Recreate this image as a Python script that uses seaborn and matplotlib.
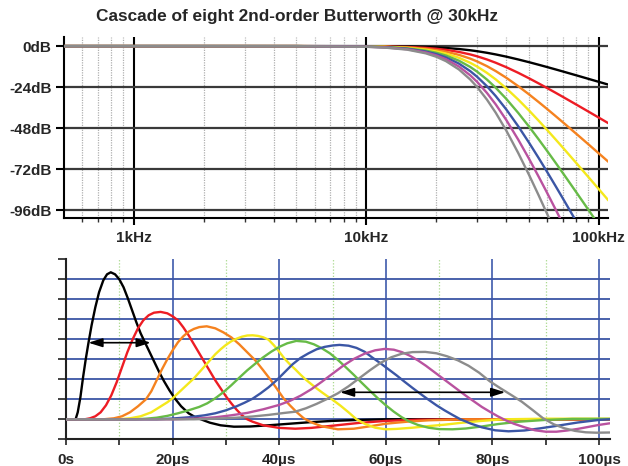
import matplotlib
matplotlib.use("Agg")
import matplotlib.pyplot as plt
import seaborn as sns
import pandas as pd

sns.set_theme(style="white")
plt.rcParams['font.family'] = ['Liberation Sans', 'DejaVu Sans']
plt.rcParams['font.weight'] = 'bold'

# ---------------- data: magnitude response (dB) ----------------
freq_hz = [500, 1000, 2000, 5000, 10000, 12000, 15000, 18000, 20000, 22000, 25000,
           28000, 30000, 33000, 36000, 40000, 45000, 50000, 55000, 60000, 65000,
           70000, 80000, 90000, 100000, 110000]
db_n1 = [0, 0, 0, -0.003, -0.05, -0.11, -0.26, -0.53, -0.78, -1.10, -1.71, -2.45, -3.01,
         -3.92, -4.88, -6.19, -7.83, -9.40, -10.90, -12.30, -13.62, -14.86, -17.12,
         -19.14, -20.95, -22.59]
db_n2 = [0, 0, 0, -0.01, -0.11, -0.22, -0.53, -1.06, -1.57, -2.21, -3.42, -4.90, -6.02,
         -7.83, -9.75, -12.38, -15.65, -18.81, -21.80, -24.61, -27.25, -29.73, -34.25,
         -38.28, -41.90, -45.19]
db_n3 = [0, 0, 0, -0.01, -0.16, -0.33, -0.79, -1.59, -2.35, -3.31, -5.13, -7.36, -9.03,
         -11.75, -14.63, -18.57, -23.48, -28.21, -32.70, -36.91, -40.88, -44.59, -51.37,
         -57.41, -62.85, -67.79]
db_n4 = [0, 0, 0, -0.01, -0.21, -0.44, -1.05, -2.12, -3.13, -4.41, -6.84, -9.81, -12.04,
         -15.67, -19.50, -24.76, -31.31, -37.61, -43.60, -49.22, -54.50, -59.45, -68.50,
         -76.55, -83.80, -90.38]
db_n5 = [0, 0, 0, -0.02, -0.27, -0.55, -1.32, -2.65, -3.92, -5.52, -8.55, -12.26, -15.05,
         -19.59, -24.38, -30.96, -39.14, -47.02, -54.50, -61.52, -68.13, -74.32, -85.62,
         -95.69, -104.75]
db_n6 = [0, 0, 0, -0.02, -0.32, -0.66, -1.58, -3.18, -4.70, -6.62, -10.25, -14.71, -18.06,
         -23.50, -29.26, -37.15, -46.96, -56.42, -65.39, -73.82, -81.75, -89.18, -102.74]
db_n7 = [0, 0, 0, -0.02, -0.37, -0.77, -1.84, -3.71, -5.48, -7.72, -11.96, -17.16, -21.07,
         -27.42, -34.13, -43.34, -54.79, -65.82, -76.29, -86.13, -95.38, -104.04]
db_n8 = [0, 0, 0, -0.02, -0.43, -0.88, -2.10, -4.24, -6.26, -8.82, -13.67, -19.62, -24.08,
         -31.34, -39.01, -49.53, -62.62, -75.22, -87.19, -98.43, -109.00]

db_ticks = [0, -24, -48, -72, -96]
db_labels = ["0dB", "-24dB", "-48dB", "-72dB", "-96dB"]
freq_ticks = [1000, 10000, 100000]
freq_labels = ["1kHz", "10kHz", "100kHz"]

# ---------------- data: impulse responses ----------------
t_n1 = [0, 1.8, 2.2, 2.7, 3.2, 3.7, 4.2, 4.8, 5.5, 6.2, 7.0, 7.7, 8.4, 9.2, 10.0, 10.8, 11.6,
        12.4, 13.2, 14.0, 14.8, 15.7, 16.6, 17.5, 18.4, 19.4, 20.4, 21.6, 23.0, 24.3, 25.3,
        27.0, 29.0, 31.5, 34.5, 38.0, 42.0, 46.0, 50.0, 55.0, 60.0, 102.0]
h_n1 = [0, 0, 0.35, 1.1, 2.1, 3.0, 3.8, 4.7, 5.6, 6.35, 6.95, 7.25, 7.35, 7.25, 7.0, 6.6, 6.05,
        5.45, 4.85, 4.3, 3.85, 3.35, 2.85, 2.35, 1.9, 1.45, 1.05, 0.65, 0.3, 0.1, 0.0,
        -0.17, -0.3, -0.37, -0.36, -0.3, -0.22, -0.14, -0.08, -0.03, 0.0, 0.0]
t_n2 = [0, 3.5, 4.5, 5.5, 6.5, 7.5, 8.5, 9.5, 10.5, 11.5, 12.5, 13.5, 14.5, 15.5, 16.5, 17.75,
        19.0, 20.0, 21.0, 22.0, 23.0, 24.0, 25.0, 26.0, 27.0, 28.0, 29.0, 30.0, 31.0, 32.0,
        33.0, 34.0, 35.0, 37.0, 40.0, 43.0, 46.0, 50.0, 55.0, 60.0, 66.0, 75.0, 102.0]
h_n2 = [0, 0, 0.05, 0.15, 0.35, 0.7, 1.2, 1.85, 2.6, 3.35, 4.0, 4.55, 4.95, 5.2, 5.33, 5.37,
        5.3, 5.15, 4.95, 4.6, 4.2, 3.75, 3.3, 2.85, 2.4, 1.95, 1.55, 1.15, 0.8, 0.48,
        0.2, 0.0, -0.12, -0.3, -0.43, -0.47, -0.43, -0.32, -0.18, -0.08, -0.02, 0.0, 0.0]
t_n3 = [0, 7, 9, 10.5, 12, 13.5, 15, 16, 17, 18, 19, 20, 21, 22, 23, 24, 25, 26.4, 28, 29.5,
        31, 32.5, 34, 35.5, 37, 38.3, 39.5, 40.8, 42, 43.3, 44.6, 46, 48, 51, 54, 57, 60,
        64, 68, 75, 102]
h_n3 = [0, 0, 0.05, 0.15, 0.35, 0.65, 1.0, 1.4, 1.95, 2.5, 3.0, 3.45, 3.85, 4.15, 4.38, 4.52,
        4.61, 4.65, 4.55, 4.35, 4.1, 3.75, 3.35, 2.95, 2.45, 2.0, 1.55, 1.05, 0.7, 0.35,
        0.05, -0.15, -0.35, -0.5, -0.47, -0.35, -0.22, -0.12, -0.05, 0, 0]
t_n4 = [0, 10, 12, 14, 16, 17.5, 19, 20, 21, 22, 23, 24, 25, 26, 27, 28, 29, 30, 31, 32, 33,
        34, 35, 36, 37, 38, 39, 40, 41, 42, 43, 44, 45, 46, 47, 48, 49, 50, 51.5, 53, 54.5,
        56, 58, 60, 62, 65, 68, 71, 74, 78, 82, 90, 102]
h_n4 = [0, 0, 0.05, 0.15, 0.35, 0.6, 0.85, 1.05, 1.3, 1.55, 1.8, 2.05, 2.35, 2.65, 2.95, 3.25,
        3.5, 3.72, 3.9, 4.03, 4.13, 4.19, 4.2, 4.17, 4.1, 3.98, 3.7, 3.38, 3.03, 2.75, 2.5,
        2.23, 1.98, 1.76, 1.55, 1.35, 1.16, 0.98, 0.68, 0.35, 0.0, -0.22, -0.42, -0.5,
        -0.48, -0.42, -0.34, -0.27, -0.18, -0.08, 0.0, 0.03, 0.03]
t_n5 = [0, 13, 15, 17, 19, 21, 23, 25, 26.5, 28, 29.5, 31, 32.5, 34, 35.5, 37, 38.5, 40, 41.5,
        43.2, 45, 46.5, 48, 49.5, 51, 52.5, 54, 55.5, 57, 58.5, 60, 61.5, 63, 64.5, 66, 68,
        70, 72.5, 75, 78, 81, 85, 90, 95, 102]
h_n5 = [0, 0, 0.03, 0.08, 0.17, 0.3, 0.45, 0.62, 0.8, 1.05, 1.35, 1.7, 2.08, 2.45, 2.78, 3.1,
        3.38, 3.62, 3.8, 3.92, 3.88, 3.75, 3.55, 3.3, 2.97, 2.6, 2.22, 1.82, 1.43, 1.05, 0.7,
        0.38, 0.1, -0.12, -0.28, -0.42, -0.49, -0.5, -0.46, -0.36, -0.24, -0.12, -0.03,
        0.02, 0.02]
t_n6 = [0, 17, 20, 23, 26, 28, 30, 32, 33.5, 35, 36.5, 38, 39.5, 41, 42.5, 44, 45.5, 47, 48.5,
        50, 51.3, 53, 54.5, 56, 57.5, 59, 60.5, 62, 63.5, 65, 66.5, 68, 69.5, 71, 72.5, 74,
        76, 78, 80.5, 83, 86, 89, 92, 96, 100, 102]
h_n6 = [0, 0, 0.04, 0.1, 0.2, 0.3, 0.45, 0.65, 0.83, 1.03, 1.3, 1.6, 1.95, 2.35, 2.75, 3.07,
        3.3, 3.5, 3.62, 3.69, 3.72, 3.68, 3.57, 3.38, 3.08, 2.8, 2.5, 2.2, 1.88, 1.57, 1.27,
        0.98, 0.7, 0.45, 0.22, 0.0, -0.22, -0.4, -0.55, -0.6, -0.56, -0.45, -0.33, -0.16,
        -0.03, 0.0]
t_n7 = [0, 20, 24, 28, 31, 34, 37, 40, 42, 44, 46, 48, 50, 52, 54, 56, 58, 59.8, 61.5, 63,
        64.5, 66, 67.5, 69, 70.5, 72, 73.5, 75, 76.5, 78, 79.5, 81, 82.5, 84, 86, 88, 90, 92,
        94, 96, 98, 100, 102]
h_n7 = [0, 0, 0.03, 0.1, 0.2, 0.32, 0.5, 0.72, 0.92, 1.18, 1.5, 1.88, 2.28, 2.68, 3.02, 3.28,
        3.45, 3.52, 3.48, 3.36, 3.18, 2.95, 2.68, 2.38, 2.08, 1.78, 1.48, 1.18, 0.9, 0.62,
        0.38, 0.15, -0.05, -0.22, -0.4, -0.55, -0.62, -0.62, -0.56, -0.48, -0.38, -0.28, -0.2]
t_n8 = [0, 24, 28, 32, 35, 38, 41, 43, 45, 47, 49, 51, 53, 55, 57, 59, 61, 63, 65, 67.4, 69.5,
        71.5, 73.5, 75.5, 77.5, 79.5, 81.5, 83.5, 85.5, 87.5, 89.5, 91.5, 93.5, 95.5, 97.5,
        99.5, 102]
h_n8 = [0, 0, 0.03, 0.08, 0.14, 0.22, 0.32, 0.38, 0.55, 0.77, 1.02, 1.3, 1.65, 2.05, 2.45,
        2.82, 3.1, 3.28, 3.36, 3.37, 3.3, 3.15, 2.95, 2.68, 2.33, 1.9, 1.55, 1.22, 0.88, 0.47,
        0.05, -0.25, -0.45, -0.58, -0.65, -0.67, -0.66]

time_ticks = [0, 20, 40, 60, 80, 100]
time_labels = ["0s", "20µs", "40µs", "60µs", "80µs", "100µs"]

# first/second arrow (µs, level)
arrow1 = (4.2, 15.9, 3.83)
arrow2 = (51.4, 82.4, 1.35)

colors = ['#000000', '#ed1c24', '#f5821f', '#f4e81c', '#67bb47', '#3b56a5', '#b9529f', '#8c8c8c']
orders = [1, 2, 3, 4, 5, 6, 7, 8]

# ---------------- build long tables ----------------
db_sets = [db_n1, db_n2, db_n3, db_n4, db_n5, db_n6, db_n7, db_n8]
mag = pd.concat([pd.DataFrame({"f": freq_hz[:len(d)], "db": d, "n": n})
                 for n, d in zip(orders, db_sets)], ignore_index=True)
t_sets = [t_n1, t_n2, t_n3, t_n4, t_n5, t_n6, t_n7, t_n8]
h_sets = [h_n1, h_n2, h_n3, h_n4, h_n5, h_n6, h_n7, h_n8]
imp = pd.concat([pd.DataFrame({"t": t, "h": h, "n": n})
                 for n, t, h in zip(orders, t_sets, h_sets)], ignore_index=True)

W, H = 628, 466
fig = plt.figure(figsize=(W / 100, H / 100), dpi=100)
fig.patch.set_facecolor("white")


def px_axes(l, t, r, b):
    return fig.add_axes([l / W, 1 - b / H, (r - l) / W, (b - t) / H])


# ---------------- top: magnitude ----------------
ax1 = px_axes(64, 36.7, 608, 217.7)
ax1.set_facecolor("white")
ax1.set_xscale("log")
ax1.set_xlim(500, 109500)
ax1.set_ylim(-100.5, 5.5)

minor_f = [m * 10 ** e for e in (2, 3, 4) for m in range(2, 10) if 500 < m * 10 ** e < 109500]
for f in minor_f:
    ax1.axvline(f, color="#b0b0b0", lw=0.9, ls=(0, (1, 1)), zorder=1)
for f in freq_ticks:
    ax1.axvline(f, color="black", lw=1.5, zorder=1)
for d in db_ticks:
    ax1.axhline(d, color="#3a3a3a", lw=1.6, zorder=1)

sns.lineplot(data=mag, x="f", y="db", hue="n", palette=colors, estimator=None,
             sort=False, legend=False, lw=1.7, ax=ax1, zorder=3)

ax1.set_xticks(freq_ticks)
ax1.set_xticklabels(freq_labels)
ax1.set_xticks(minor_f, minor=True)
ax1.set_yticks(db_ticks)
ax1.set_yticklabels(db_labels)
ax1.tick_params(axis="x", which="major", direction="out", length=5, width=1.5,
                color="black", labelsize=11, pad=4.5, bottom=True)
ax1.tick_params(axis="x", which="minor", direction="out", length=3, width=1.0,
                color="#333333", bottom=True, labelbottom=False)
ax1.tick_params(axis="y", which="major", direction="out", length=6, width=1.5,
                color="black", labelsize=11, pad=3, left=True)
for lab in ax1.get_xticklabels() + ax1.get_yticklabels():
    lab.set_fontweight("bold")
for s in ("top", "right"):
    ax1.spines[s].set_visible(False)
for s in ("left", "bottom"):
    ax1.spines[s].set_color("black")
    ax1.spines[s].set_linewidth(1.5)
ax1.set_xlabel("")
ax1.set_ylabel("")

fig.text(297 / W, 1 - 17 / H, "Cascade of eight 2nd-order Butterworth @ 30kHz",
         ha="center", va="center", fontsize=12.4, fontweight="bold")

# ---------------- bottom: impulse responses ----------------
ax2 = px_axes(66, 259.3, 610, 439.3)
ax2.set_facecolor("white")
ax2.set_xlim(0, 102.05)
ax2.set_ylim(-1, 8)

for v in [10, 30, 50, 70, 90]:
    ax2.axvline(v, color="#a9d98c", lw=0.9, ls=(0, (1, 1.5)), zorder=1)
for v in [20, 40, 60, 80, 100]:
    ax2.axvline(v, color="#5a72b8", lw=1.4, zorder=1)
for y in range(0, 8):
    ax2.axhline(y, color="#3c55a5", lw=1.3, zorder=1)

sns.lineplot(data=imp, x="t", y="h", hue="n", palette=colors, estimator=None,
             sort=False, legend=False, lw=1.7, ax=ax2, zorder=3)

for (x0, x1, y) in (arrow1, arrow2):
    ax2.annotate("", xy=(x1, y), xytext=(x0, y),
                 arrowprops=dict(arrowstyle="<|-|>,head_length=0.7,head_width=0.22",
                                 color="black", lw=1.2, shrinkA=0, shrinkB=0),
                 zorder=4)

ax2.set_xticks(time_ticks)
ax2.set_xticklabels(time_labels)
ax2.set_xticks([10, 30, 50, 70, 90], minor=True)
ax2.set_yticks(list(range(-1, 9)))
ax2.set_yticklabels([])
ax2.tick_params(axis="x", which="both", direction="out", length=4, width=1.2,
                color="#222222", labelsize=11, pad=6, bottom=True)
ax2.tick_params(axis="y", which="major", direction="out", length=6, width=1.2,
                color="#222222", left=True)
for lab in ax2.get_xticklabels():
    lab.set_fontweight("bold")
for s in ("top", "right"):
    ax2.spines[s].set_visible(False)
for s in ("left", "bottom"):
    ax2.spines[s].set_color("#222222")
    ax2.spines[s].set_linewidth(1.5)
ax2.set_xlabel("")
ax2.set_ylabel("")

fig.savefig("out.png", dpi=100, facecolor="white")
